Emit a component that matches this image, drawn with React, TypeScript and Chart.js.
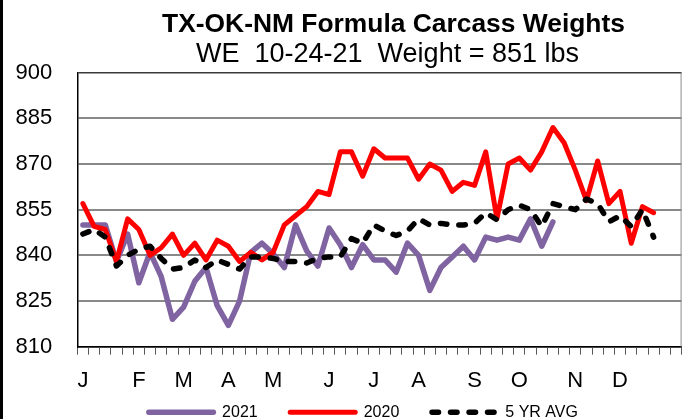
import React, { useEffect, useRef } from "react";
import { Chart, registerables } from "chart.js";

Chart.register(...registerables);

// ---- data ----
const monthLabels = ["J", "F", "M", "A", "M", "J", "J", "A", "S", "O", "N", "D"];
const monthStartWeek = [0, 5, 9, 13, 17, 22, 26, 30, 35, 39, 44, 48];
const weekCount = 54;

const values2021 = [
  850, 850, 850, 838, 847, 831, 841, 833, 819, 823,
  831.5, 836, 823.5, 817, 825, 841, 844, 840.5, 836, 850,
  841.5, 836.5, 849, 843.5, 836, 843.5, 838.5, 838.5, 834.5, 844,
  840, 828.5, 836, 839.5, 843, 838.5, 846, 845, 846, 845,
  852, 843, 851,
];

const values2020 = [
  857, 849.5, 848.5, 838, 852, 848.5, 840, 842.5, 847, 840,
  844, 838.5, 845, 843, 838, 841, 838.5, 841, 850, 853,
  856, 861, 860, 874, 874, 866, 875, 872, 872, 872,
  865, 870, 868, 861, 864, 863, 874, 852, 870, 872,
  868, 874, 882, 877, 868, 858, 871, 857, 861, 844,
  856, 854,
];

const values5yr = [
  847, 848.5, 846, 836.5, 840, 842, 843, 839, 835.5, 836,
  838.5, 836, 838.5, 837, 835.5, 839.5, 839.5, 839, 838, 838,
  837.5, 839, 839.5, 839.5, 845.5, 844, 850, 848, 846.5, 848,
  852, 850, 850.5, 850, 850, 850.5, 854, 851.7, 855, 856.5,
  855, 849.5, 857, 856, 855, 858.5, 857, 851, 853, 849.5,
  855, 846,
];

const seriesNames = ["2021", "2020", "5 YR AVG"];
const yTicks = [810, 825, 840, 855, 870, 885, 900];
const titleText = "TX-OK-NM Formula Carcass Weights";
const subtitleText = "WE  10-24-21  Weight = 851 lbs";

const FONT = "'Liberation Sans', Arial, sans-serif";

const categories: string[] = Array.from({ length: weekCount }, () => "");
monthStartWeek.forEach((w, i) => {
  categories[w] = monthLabels[i];
});

const headerPlugin = {
  id: "header",
  afterDraw(chart: any) {
    const ctx = chart.ctx;
    ctx.save();
    ctx.fillStyle = "#000";
    ctx.textAlign = "center";
    ctx.textBaseline = "alphabetic";
    ctx.font = `bold 26.4px ${FONT}`;
    ctx.fillText(titleText, 393.5, 31.7);
    ctx.font = `27px ${FONT}`;
    ctx.fillText(subtitleText, 387.5, 61.7);
    // outer frame (left edge visible)
    ctx.fillRect(0, 0, 3, chart.height);
    // plot area right border
    const a = chart.chartArea;
    ctx.strokeStyle = "#8a8a8a";
    ctx.lineWidth = 1;
    ctx.beginPath();
    ctx.moveTo(a.right - 0.5, a.top);
    ctx.lineTo(a.right - 0.5, a.bottom);
    ctx.stroke();
    ctx.restore();
  },
};

const legendPlugin = {
  id: "lineLegend",
  afterDraw(chart: any) {
    const ctx = chart.ctx;
    ctx.save();
    ctx.font = `16px ${FONT}`;
    const lineLen = 70;
    const textGap = 6;
    const itemGap = 30;
    const y = 412.3;
    const centerX = 362;
    const items = chart.data.datasets.map((ds: any) => ({
      text: ds.label,
      color: ds.borderColor,
      width: ds.borderWidth,
      dash: ds.borderDash || [],
      tw: ctx.measureText(ds.label).width,
    }));
    const total =
      items.reduce((s: number, it: any) => s + lineLen + textGap + it.tw, 0) +
      itemGap * (items.length - 1);
    let x = centerX - total / 2;
    items.forEach((it: any) => {
      ctx.beginPath();
      ctx.setLineDash(it.dash);
      ctx.lineCap = "round";
      ctx.strokeStyle = it.color;
      ctx.lineWidth = it.width;
      ctx.moveTo(x + it.width / 2, y);
      ctx.lineTo(x + lineLen - it.width / 2, y);
      ctx.stroke();
      ctx.setLineDash([]);
      ctx.fillStyle = "#000";
      ctx.textAlign = "left";
      ctx.textBaseline = "middle";
      ctx.fillText(it.text, x + lineLen + textGap, y);
      x += lineLen + textGap + it.tw + itemGap;
    });
    ctx.restore();
  },
};

export default function App() {
  const canvasRef = useRef<HTMLCanvasElement | null>(null);

  useEffect(() => {
    if (!canvasRef.current) return;
    const chart = new Chart(canvasRef.current, {
      type: "line",
      data: {
        labels: categories,
        datasets: [
          {
            label: seriesNames[0],
            data: values2021,
            borderColor: "#8064A2",
            borderWidth: 5.5,
            pointRadius: 0,
            borderJoinStyle: "round",
            borderCapStyle: "round",
            tension: 0,
            order: 3,
          },
          {
            label: seriesNames[1],
            data: values2020,
            borderColor: "#FF0000",
            borderWidth: 5,
            pointRadius: 0,
            borderJoinStyle: "round",
            borderCapStyle: "round",
            tension: 0,
            order: 2,
          },
          {
            label: seriesNames[2],
            data: values5yr,
            borderColor: "#000000",
            borderWidth: 5.5,
            borderDash: [6.5, 12],
            pointRadius: 0,
            borderJoinStyle: "round",
            borderCapStyle: "round",
            tension: 0,
            order: 1,
          },
        ],
      },
      options: {
        responsive: false,
        animation: false,
        devicePixelRatio: 1,
        layout: {
          padding: { left: 0, right: 0.7, top: 72.7, bottom: 0 },
        },
        plugins: {
          legend: { display: false },
          title: { display: false },
          tooltip: { enabled: false },
        },
        scales: {
          x: {
            type: "category",
            offset: true,
            afterFit: (scale: any) => {
              scale.height = 419 - 346.7;
            },
            grid: {
              offset: true,
              drawOnChartArea: false,
              drawTicks: true,
              tickLength: 8,
              color: "#595959",
              lineWidth: 1,
            },
            border: { color: "#000", width: 1.5 },
            ticks: {
              autoSkip: false,
              maxRotation: 0,
              minRotation: 0,
              padding: 13,
              color: "#000",
              font: { family: FONT, size: 22 },
            },
          },
          y: {
            min: yTicks[0],
            max: yTicks[yTicks.length - 1],
            afterFit: (scale: any) => {
              scale.width = 77.3;
            },
            afterBuildTicks: (scale: any) => {
              scale.ticks = yTicks.map((v) => ({ value: v }));
            },
            grid: {
              drawTicks: false,
              color: (c: any) => (c.tick && c.tick.value === 900 ? "#3a3a3a" : "#898989"),
              lineWidth: (c: any) => (c.tick && c.tick.value === 900 ? 1.5 : 2),
            },
            border: { color: "#000", width: 1.5 },
            ticks: {
              padding: 25,
              color: "#000",
              font: { family: FONT, size: 22 },
            },
          },
        },
      },
      plugins: [headerPlugin, legendPlugin],
    });
    return () => chart.destroy();
  }, []);

  return (
    <div style={{ position: "absolute", left: 0, top: 0, width: 689, height: 419, background: "#fff" }}>
      <canvas ref={canvasRef} width={689} height={419} />
    </div>
  );
}
